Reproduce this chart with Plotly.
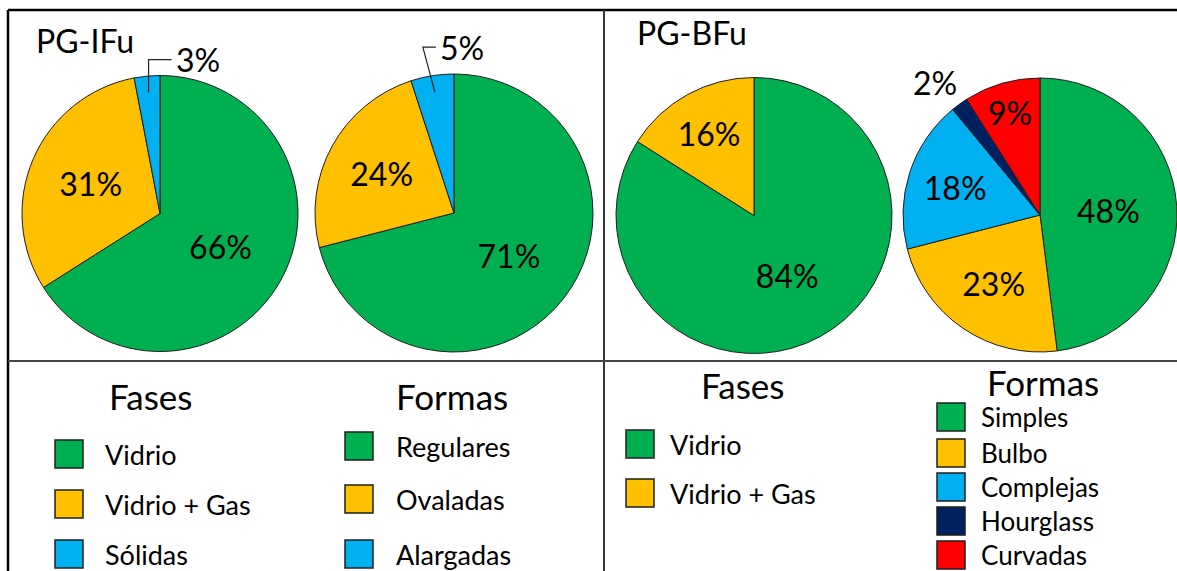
import math
import plotly.graph_objects as go

W, H = 1177, 571

# ---------------- data ----------------
group_titles = ["PG-IFu", "PG-BFu"]
legend_titles = ["Fases", "Formas"]

fases_ifu_labels = ["Vidrio", "Vidrio + Gas", "Sólidas"]
fases_ifu_values = [66, 31, 3]
formas_ifu_labels = ["Regulares", "Ovaladas", "Alargadas"]
formas_ifu_values = [71, 24, 5]
fases_bfu_labels = ["Vidrio", "Vidrio + Gas"]
fases_bfu_values = [84, 16]
formas_bfu_labels = ["Simples", "Bulbo", "Complejas", "Hourglass", "Curvadas"]
formas_bfu_values = [48, 23, 18, 2, 9]

# ---------------- style ----------------
GREEN, YELLOW, BLUE, NAVY, RED = "#00B050", "#FFC000", "#00B0F0", "#002060", "#FF0000"
colors_3 = [GREEN, YELLOW, BLUE]
colors_2 = [GREEN, YELLOW]
colors_5 = [GREEN, YELLOW, BLUE, NAVY, RED]
FONT = "Lato"
OUTLINE = "#1f1f1f"


def px(x):
    return x / W


def py(y):
    return 1 - y / H


# pie geometry (center x, center y, radius) in pixels
pies = [
    dict(labels=fases_ifu_labels, values=fases_ifu_values, colors=colors_3, geo=(160, 213.5, 138)),
    dict(labels=formas_ifu_labels, values=formas_ifu_values, colors=colors_3, geo=(454, 213, 139)),
    dict(labels=fases_bfu_labels, values=fases_bfu_values, colors=colors_2, geo=(754, 215.5, 138)),
    dict(labels=formas_bfu_labels, values=formas_bfu_values, colors=colors_5, geo=(1040, 215, 137)),
]

SMALL = 6  # slices below this % get an outside label

fig = go.Figure()
for p in pies:
    cx, cy, r = p["geo"]
    x0, x1 = max(0, (cx - r)) / W, min(W, (cx + r)) / W
    y0, y1 = py(cy + r), py(cy - r)
    fig.add_trace(go.Pie(
        labels=p["labels"], values=p["values"],
        sort=False, direction="clockwise", rotation=0,
        marker=dict(colors=p["colors"], line=dict(color=OUTLINE, width=1)),
        texttemplate="%{value}%",
        textposition=["none" if v < SMALL else "inside" for v in p["values"]],
        insidetextorientation="horizontal",
        textfont=dict(family=FONT, size=32, color="black"),
        domain=dict(x=[x0, x1], y=[y0, y1]),
        showlegend=False, hoverinfo="label+percent",
    ))

shapes = []
annotations = []


def slice_anchor(values, idx, geo, frac):
    cx, cy, r = geo
    tot = sum(values)
    mid = 360 * (sum(values[:idx]) + values[idx] / 2) / tot
    a = math.radians(mid)
    return cx + frac * r * math.sin(a), cy - frac * r * math.cos(a)


# outside labels for tiny slices: (pie index, elbow offset, text offset, draw leader)
outside = [
    (0, (0, -33), (25, -33), True),
    (1, (-12, -45), (3, -45), True),
    (3, None, (-48, -22), False),
]
for pi, elbow, toff, leader in outside:
    p = pies[pi]
    for i, v in enumerate(p["values"]):
        if v >= SMALL:
            continue
        if leader:
            ax, ay = slice_anchor(p["values"], i, p["geo"], 0.88)
            ex, ey = ax + elbow[0], ay + elbow[1]
            tx, ty = ax + toff[0], ay + toff[1]
            shapes.append(dict(type="path", xref="paper", yref="paper",
                               path=f"M {px(ax)} {py(ay)} L {px(ex)} {py(ey)} L {px(tx - 2)} {py(ty)}",
                               line=dict(color="#222", width=1.2)))
        else:
            ax, ay = slice_anchor(p["values"], i, p["geo"], 1.0)
            tx, ty = ax + toff[0], ay + toff[1]
        annotations.append(dict(x=px(tx), y=py(ty), xref="paper", yref="paper",
                                text=f"{v}%", showarrow=False, xanchor="left", yanchor="middle",
                                font=dict(family=FONT, size=32, color="black")))

# frame lines
shapes += [
    dict(type="line", xref="paper", yref="paper", x0=px(8), x1=1, y0=py(10), y1=py(10),
         line=dict(color="black", width=2.5)),
    dict(type="line", xref="paper", yref="paper", x0=px(8), x1=px(8), y0=py(10), y1=0,
         line=dict(color="black", width=2.5)),
    dict(type="line", xref="paper", yref="paper", x0=px(604), x1=px(604), y0=py(10), y1=0,
         line=dict(color="#333", width=2)),
    dict(type="line", xref="paper", yref="paper", x0=px(8), x1=1, y0=py(361), y1=py(361),
         line=dict(color="#444", width=2)),
]

# group titles
for title, (tx, ty) in zip(group_titles, [(34, 40), (635, 32)]):
    annotations.append(dict(x=px(tx), y=py(ty), xref="paper", yref="paper", text=title,
                            showarrow=False, xanchor="left", yanchor="middle",
                            font=dict(family=FONT, size=32, color="black")))

# legends
legend_blocks = [
    dict(title=legend_titles[0], tpos=(151, 396), labels=fases_ifu_labels, colors=colors_3,
         sq_x=55, txt_x=103, ys=[454, 504, 554], fs=27),
    dict(title=legend_titles[1], tpos=(452, 396), labels=formas_ifu_labels, colors=colors_3,
         sq_x=345, txt_x=394, ys=[446, 499, 554], fs=27),
    dict(title=legend_titles[0], tpos=(743, 385), labels=fases_bfu_labels, colors=colors_2,
         sq_x=626, txt_x=668, ys=[444, 493], fs=27),
    dict(title=legend_titles[1], tpos=(1043, 382), labels=formas_bfu_labels, colors=colors_5,
         sq_x=937, txt_x=979, ys=[417, 453, 487, 521, 555], fs=26),
]
SQ = 28
for b in legend_blocks:
    annotations.append(dict(x=px(b["tpos"][0]), y=py(b["tpos"][1]), xref="paper", yref="paper",
                            text=b["title"], showarrow=False, xanchor="center", yanchor="middle",
                            font=dict(family=FONT, size=35, color="black")))
    for lab, col, yc in zip(b["labels"], b["colors"], b["ys"]):
        shapes.append(dict(type="rect", xref="paper", yref="paper",
                           x0=px(b["sq_x"]), x1=px(b["sq_x"] + SQ),
                           y0=py(yc + SQ / 2), y1=py(yc - SQ / 2),
                           fillcolor=col, line=dict(color=OUTLINE, width=1.5)))
        annotations.append(dict(x=px(b["txt_x"]), y=py(yc), xref="paper", yref="paper",
                                text=lab, showarrow=False, xanchor="left", yanchor="middle",
                                font=dict(family=FONT, size=b["fs"], color="black")))

fig.update_layout(
    width=W, height=H,
    margin=dict(l=0, r=0, t=0, b=0),
    paper_bgcolor="white", plot_bgcolor="white",
    shapes=shapes, annotations=annotations,
)

fig.write_html(
    "out.html",
    config={"displayModeBar": False},
    post_script="document.body.style.margin='0';document.body.style.overflow='hidden';",
)
